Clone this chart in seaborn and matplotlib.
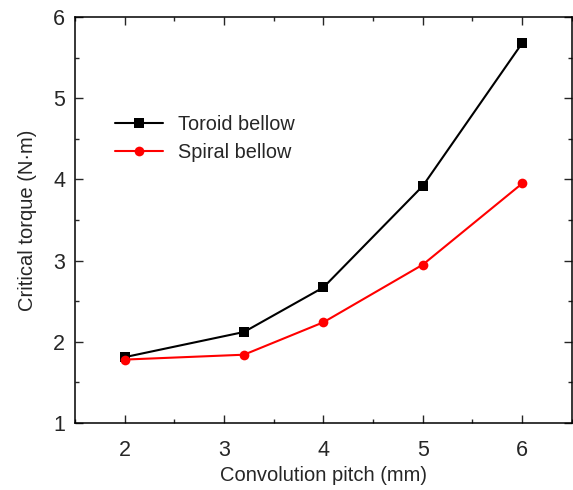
import matplotlib
matplotlib.use("Agg")
import matplotlib.pyplot as plt
import seaborn as sns
import pandas as pd
from matplotlib.ticker import MultipleLocator

pitch = [2, 3.2, 4, 5, 6]
toroid = [1.81, 2.12, 2.67, 3.92, 5.68]
spiral = [1.78, 1.84, 2.24, 2.95, 3.95]
series_names = ["Toroid bellow", "Spiral bellow"]

df = pd.DataFrame({
    "pitch": pitch * 2,
    "torque": toroid + spiral,
    "series": [series_names[0]] * len(pitch) + [series_names[1]] * len(pitch),
})

sns.set_style("ticks")
plt.rcParams['font.family'] = ['Liberation Sans', 'DejaVu Sans']

fig = plt.figure(figsize=(5.73, 4.9), dpi=100)
ax = fig.add_axes([0.131, 0.137, 0.867, 0.828])

sns.lineplot(data=df, x="pitch", y="torque", hue="series", style="series",
             palette={series_names[0]: "black", series_names[1]: "red"},
             markers={series_names[0]: "s", series_names[1]: "o"},
             dashes=False, markersize=7, markeredgewidth=0, linewidth=1.5,
             ax=ax)

ax.set_xlim(1.5, 6.5)
ax.set_ylim(1, 6)
ax.xaxis.set_major_locator(MultipleLocator(1))
ax.xaxis.set_minor_locator(MultipleLocator(0.5))
ax.yaxis.set_major_locator(MultipleLocator(1))
ax.yaxis.set_minor_locator(MultipleLocator(0.5))
ax.tick_params(which="both", direction="in", top=True, right=True,
               labeltop=False, labelright=False, labelsize=15.5, width=1)
ax.tick_params(axis="x", which="both", pad=12)
ax.tick_params(axis="y", which="both", pad=7)
ax.tick_params(which="major", length=6)
ax.tick_params(which="minor", length=3)
for s in ax.spines.values():
    s.set_linewidth(1.1)
    s.set_color("black")

ax.set_xlabel("Convolution pitch (mm)", fontsize=14.5, labelpad=4)
ax.set_ylabel("Critical torque (N·m)", fontsize=14.5, labelpad=12)

leg = ax.legend(frameon=False, fontsize=14.3, loc="upper left",
                bbox_to_anchor=(0.065, 0.778), handlelength=2.4, handletextpad=0.75,
                labelspacing=0.45, borderaxespad=0)

fig.savefig("out.png", dpi=100)
